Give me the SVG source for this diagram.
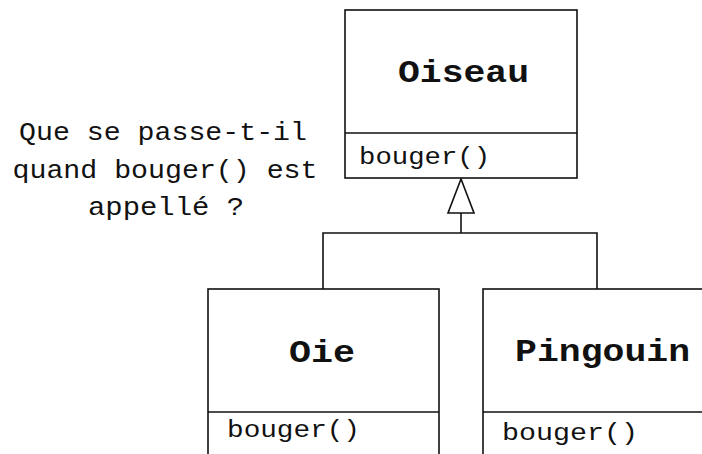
<svg xmlns="http://www.w3.org/2000/svg" width="702" height="454" viewBox="0 0 702 454">
<style>
.box{fill:#fff;stroke:#111;stroke-width:1.6}
.ln{fill:none;stroke:#111;stroke-width:1.6}
.name{font-family:"Liberation Mono","DejaVu Sans Mono",monospace;font-size:32px;font-weight:bold;fill:#111}
.op{font-family:"Liberation Mono","DejaVu Sans Mono",monospace;font-size:24px;fill:#111}
.note{font-family:"Liberation Mono","DejaVu Sans Mono",monospace;font-size:25px;fill:#111;text-anchor:middle}
</style>
<rect width="702" height="454" fill="#fff"/>
<g id="note">
<text class="note" x="163" y="140" textLength="288" lengthAdjust="spacingAndGlyphs">Que se passe-t-il</text>
<text class="note" x="165" y="178" textLength="305" lengthAdjust="spacingAndGlyphs">quand bouger() est</text>
<text class="note" x="166" y="215" textLength="156" lengthAdjust="spacingAndGlyphs">appellé ?</text>
</g>
<g id="connectors">
<polyline class="ln" points="323,289 323,233 597,233 597,289"/>
<line class="ln" x1="461" y1="233" x2="461" y2="213"/>
<polygon class="box" points="461,179 448,213 474,213"/>
</g>
<g id="oiseau">
<rect class="box" x="345" y="10" width="232" height="168"/>
<line class="ln" x1="345" y1="133" x2="577" y2="133"/>
<text class="name" x="398" y="82" textLength="131" lengthAdjust="spacingAndGlyphs">Oiseau</text>
<text class="op" x="359" y="164" textLength="131" lengthAdjust="spacingAndGlyphs">bouger()</text>
</g>
<g id="oie">
<rect class="box" x="208" y="289" width="231" height="180"/>
<line class="ln" x1="208" y1="412" x2="439" y2="412"/>
<text class="name" x="289" y="362" textLength="66" lengthAdjust="spacingAndGlyphs">Oie</text>
<text class="op" x="227" y="437" textLength="133" lengthAdjust="spacingAndGlyphs">bouger()</text>
</g>
<g id="pingouin">
<rect class="box" x="483" y="289" width="240" height="180"/>
<line class="ln" x1="483" y1="412" x2="723" y2="412"/>
<text class="name" x="515" y="361" textLength="175" lengthAdjust="spacingAndGlyphs">Pingouin</text>
<text class="op" x="502" y="440" textLength="136" lengthAdjust="spacingAndGlyphs">bouger()</text>
</g>
</svg>
